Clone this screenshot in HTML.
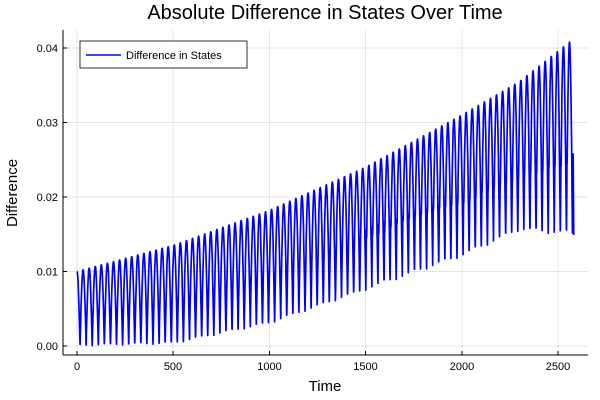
<!DOCTYPE html>
<html><head><meta charset="utf-8"><style>
body{margin:0;background:#fff;}
svg{display:block;font-family:"Liberation Sans",sans-serif;}
</style></head><body>
<svg id="s" width="600" height="400" xmlns="http://www.w3.org/2000/svg">
<rect width="600" height="400" fill="#fff"/>
<g stroke="#000" stroke-opacity="0.1" stroke-width="1">
<line x1="77" y1="30" x2="77" y2="355"/><line x1="173" y1="30" x2="173" y2="355"/>
<line x1="269.5" y1="30" x2="269.5" y2="355"/><line x1="365.5" y1="30" x2="365.5" y2="355"/>
<line x1="462" y1="30" x2="462" y2="355"/><line x1="558" y1="30" x2="558" y2="355"/>
<line x1="63" y1="346" x2="588" y2="346"/><line x1="63" y1="271.5" x2="588" y2="271.5"/>
<line x1="63" y1="197" x2="588" y2="197"/><line x1="63" y1="122.5" x2="588" y2="122.5"/>
<line x1="63" y1="48" x2="588" y2="48"/>
</g>
<g stroke="#000" stroke-width="1">
<line x1="63" y1="355" x2="588" y2="355"/><line x1="63" y1="30" x2="63" y2="355"/>
<line x1="77" y1="355" x2="77" y2="351"/><line x1="173" y1="355" x2="173" y2="351"/>
<line x1="269.5" y1="355" x2="269.5" y2="351"/><line x1="365.5" y1="355" x2="365.5" y2="351"/>
<line x1="462" y1="355" x2="462" y2="351"/><line x1="558" y1="355" x2="558" y2="351"/>
<line x1="63" y1="346" x2="67" y2="346"/><line x1="63" y1="271.5" x2="67" y2="271.5"/>
<line x1="63" y1="197" x2="67" y2="197"/><line x1="63" y1="122.5" x2="67" y2="122.5"/>
<line x1="63" y1="48" x2="67" y2="48"/>
</g>
<g font-size="11" fill="#000" text-anchor="middle">
<text x="77" y="370">0</text><text x="173" y="370">500</text><text x="269.5" y="370">1000</text>
<text x="365.5" y="370">1500</text><text x="462" y="370">2000</text><text x="558" y="370">2500</text>
</g>
<g font-size="11" fill="#000" text-anchor="end">
<text x="58" y="350">0.00</text><text x="58" y="275.5">0.01</text><text x="58" y="201">0.02</text>
<text x="58" y="126.5">0.03</text><text x="58" y="52">0.04</text>
</g>
<text x="325" y="19" font-size="20" text-anchor="middle">Absolute Difference in States Over Time</text>
<text x="325" y="391" font-size="15" text-anchor="middle">Time</text>
<text transform="translate(17,193) rotate(-90)" font-size="15" text-anchor="middle">Difference</text>
<polyline id="p" fill="none" stroke="#0000ff" stroke-width="1.7" stroke-linejoin="round"/>
<rect x="80" y="41" width="167" height="27" fill="#fff" stroke="#000" stroke-width="0.8"/>
<line x1="86" y1="55" x2="121" y2="55" stroke="#0000ff" stroke-width="1.6"/>
<text x="126" y="59" font-size="11">Difference in States</text>
</svg>
<script>
function X(t){return 77+t*0.1924;}
function Y(v){return 346-v*7450;}
function lerp(pts,t){for(let i=1;i<pts.length;i++){if(t<=pts[i][0]){const a=pts[i-1],b=pts[i];return a[1]+(b[1]-a[1])*(t-a[0])/(b[0]-a[0]);}}return pts[pts.length-1][1];}
const Up=[[0,0.0100],[500,0.0135],[1000,0.0182],[1500,0.0240],[2000,0.0310],[2300,0.0355],[2580,0.0412]];
const Lo=[[0,0.0000],[500,0.0003],[1000,0.0030],[1500,0.0075],[2000,0.0120],[2300,0.0155],[2580,0.0148]];
const Mi=[[0,0],[1400,0],[1500,0.0160],[2000,0.0200],[2580,0.0260]];
const L2=[[0,0],[1400,0],[1700,0.0150],[2580,0.0152]];
const T=31.6;let pts=[];
const tEnd=Math.floor(2560/T)*T+0.62*T;
let lastX=0;
for(let t=0;t<=tEnd;t+=0.5){
 const U=lerp(Up,t),L=lerp(Lo,t);let ph=(t/T)%1;
 let v=L+(U-L)*Math.abs(Math.cos(Math.PI*ph));
 const M=lerp(Mi,t),l2=lerp(L2,t);
 if(M>0 && ph>0.5 && ph<0.75){
   const q=(ph-0.5)/0.25;
   let s=q<0.4? L+(M-L)*(q/0.4) : M+(Math.max(l2,L)-M)*((q-0.4)/0.6);
   if(q>=0.4 && l2<=0) s=v;
   v=Math.max(v,Math.min(s,U));
 }
 lastX=X(t);
 pts.push(lastX.toFixed(1)+","+Y(v).toFixed(1));
}
pts.push((lastX+0.5).toFixed(1)+","+Y(0.0149).toFixed(1));
document.getElementById('p').setAttribute('points',pts.join(' '));
</script>
</body></html>
